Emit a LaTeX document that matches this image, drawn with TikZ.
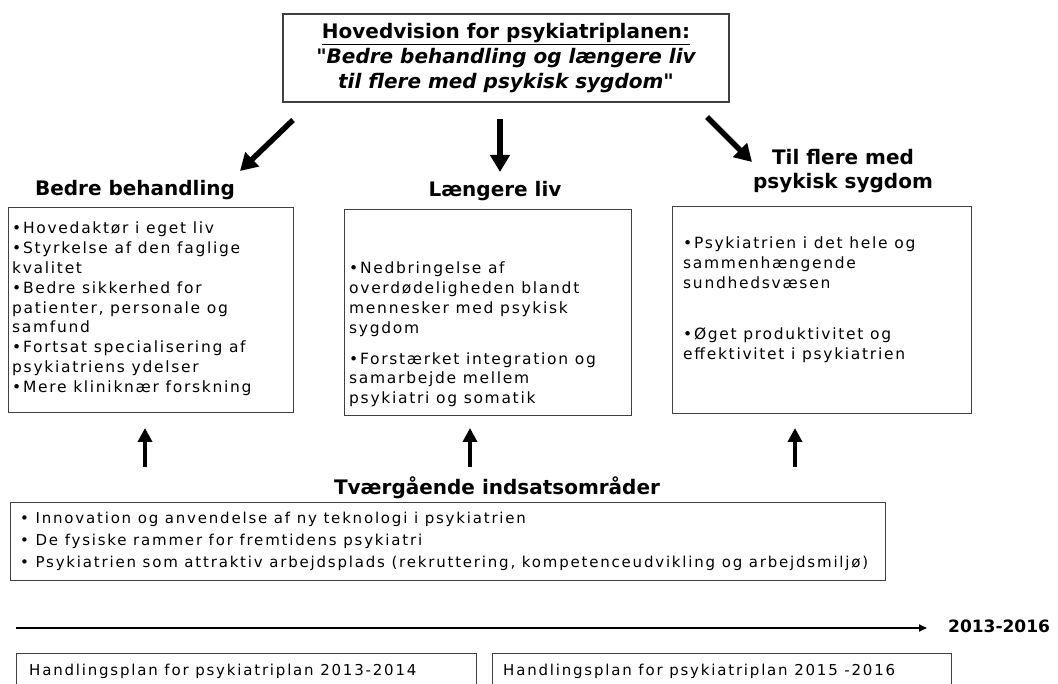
\documentclass[tikz,border=0pt]{standalone}
\usepackage{fontspec}
\setmainfont{DejaVu Sans}[Ligatures=TeXOff]
\newfontfamily\boxfont[LetterSpace=11]{DejaVu Sans}
\newfontfamily\listfont[LetterSpace=12]{DejaVu Sans}
\usetikzlibrary{arrows.meta, positioning}

\begin{document}
\begin{tikzpicture}[x=1pt, y=-1pt,
        % Frames
        frame/.style={draw=black!75, line width=1.4pt, inner sep=0pt},
        % Text in the three columns
        coltext/.style={font=\boxfont\fontsize{15.5}{19.8}\selectfont, align=left, inner sep=0pt},
        % Text in the lower boxes
        listtext/.style={font=\listfont\fontsize{15}{22}\selectfont, align=left, inner sep=0pt},
        % Headings
        heading/.style={font=\bfseries\fontsize{20}{24}\selectfont, align=center, inner sep=0pt},
        % Arrows
        bigarrow/.style={-{Triangle[length=17pt, width=19pt]}, line width=5.5pt},
        uparrow/.style={-{Triangle[length=14pt, width=14pt]}, line width=4pt},
        timeline/.style={-{Triangle[length=8pt, width=7pt]}, line width=2pt}
    ]
    \useasboundingbox (0,0) rectangle (1058,684);
    \clip (0,0) rectangle (1058,684);

    % Vision
    \node[frame, minimum width=446pt, minimum height=88pt, align=center,
          font=\bfseries\fontsize{20}{25}\selectfont] (vision) at (506,58)
        {\underline{Hovedvision for psykiatriplanen:}\\
         \itshape "Bedre behandling og længere liv\\
         \itshape til flere med psykisk sygdom"};

    % Headings of the three columns
    \node[heading] (bedre) at (135,190) {Bedre behandling};
    \node[heading] (laengere) at (495,191) {Længere liv};
    \node[heading] (flere) at (843,171) {Til flere med\\psykisk sygdom};

    % Arrows from the vision
    \coordinate (a1s) at (293,120);
    \coordinate (a1e) at (240,171);
    \coordinate (a2s) at (500,119);
    \coordinate (a2e) at (500,172);
    \coordinate (a3s) at (707,117);
    \coordinate (a3e) at (752,162);
    \draw[bigarrow] (a1s) -- (a1e);
    \draw[bigarrow] (a2s) -- (a2e);
    \draw[bigarrow] (a3s) -- (a3e);

    % Column boxes
    \node[frame, anchor=north west, minimum width=285pt, minimum height=205pt] (col1) at (8,207) {};
    \node[frame, anchor=north west, minimum width=287pt, minimum height=206pt] (col2) at (344,209) {};
    \node[frame, anchor=north west, minimum width=299pt, minimum height=207pt] (col3) at (672,206) {};

    \node[coltext, below right=15pt and 4pt of col1.north west] (col1txt)
        {•Hovedaktør i eget liv\\
         •Styrkelse af den faglige\\
         kvalitet\\
         •Bedre sikkerhed for\\
         patienter, personale og\\
         samfund\\
         •Fortsat specialisering af\\
         psykiatriens ydelser\\
         •Mere kliniknær forskning};
    \node[coltext, below right=53pt and 5pt of col2.north west] (col2txt)
        {•Nedbringelse af\\
         overdødeligheden blandt\\
         mennesker med psykisk\\
         sygdom\\[11pt]
         •Forstærket integration og\\
         samarbejde mellem\\
         psykiatri og somatik};
    \node[coltext, below right=31pt and 11pt of col3.north west] (col3txt)
        {•Psykiatrien i det hele og\\
         sammenhængende\\
         sundhedsvæsen\\[31pt]
         •Øget produktivitet og\\
         effektivitet i psykiatrien};

    % Arrows up from the cross-cutting areas
    \coordinate (u1s) at (145,467);
    \coordinate (u1e) at (145,428);
    \coordinate (u2s) at (470,467);
    \coordinate (u2e) at (470,428);
    \coordinate (u3s) at (795,467);
    \coordinate (u3e) at (795,428);
    \draw[uparrow] (u1s) -- (u1e);
    \draw[uparrow] (u2s) -- (u2e);
    \draw[uparrow] (u3s) -- (u3e);

    % Cross-cutting areas
    \node[heading] (tvaer) at (497,488) {Tværgående indsatsområder};
    \node[frame, anchor=north west, minimum width=875pt, minimum height=78pt] (tvaerbox) at (10,502) {};
    \node[listtext, right=10pt of tvaerbox.west] (tvaertxt)
        {• Innovation og anvendelse af ny teknologi i psykiatrien\\
         • De fysiske rammer for fremtidens psykiatri\\
         • Psykiatrien som attraktiv arbejdsplads (rekruttering, kompetenceudvikling og arbejdsmiljø)};

    % Timeline
    \coordinate (tstart) at (16,628);
    \node[anchor=west, inner sep=0pt, font=\bfseries\fontsize{17}{20}\selectfont] (years) at (948,626) {2013-2016};
    \draw[timeline, shorten >=21pt] (tstart) -- (tstart -| years.west);

    % Action plans
    \node[frame, anchor=north west, minimum width=460pt, minimum height=36pt] (plan1) at (16,653) {};
    \node[frame, anchor=north west, minimum width=459pt, minimum height=36pt] (plan2) at (492,653) {};
    \node[listtext, right=13pt of plan1.west] (plan1txt) {Handlingsplan for psykiatriplan 2013-2014};
    \node[listtext, right=11pt of plan2.west] (plan2txt) {Handlingsplan for psykiatriplan 2015 -2016};

\end{tikzpicture}
\end{document}
